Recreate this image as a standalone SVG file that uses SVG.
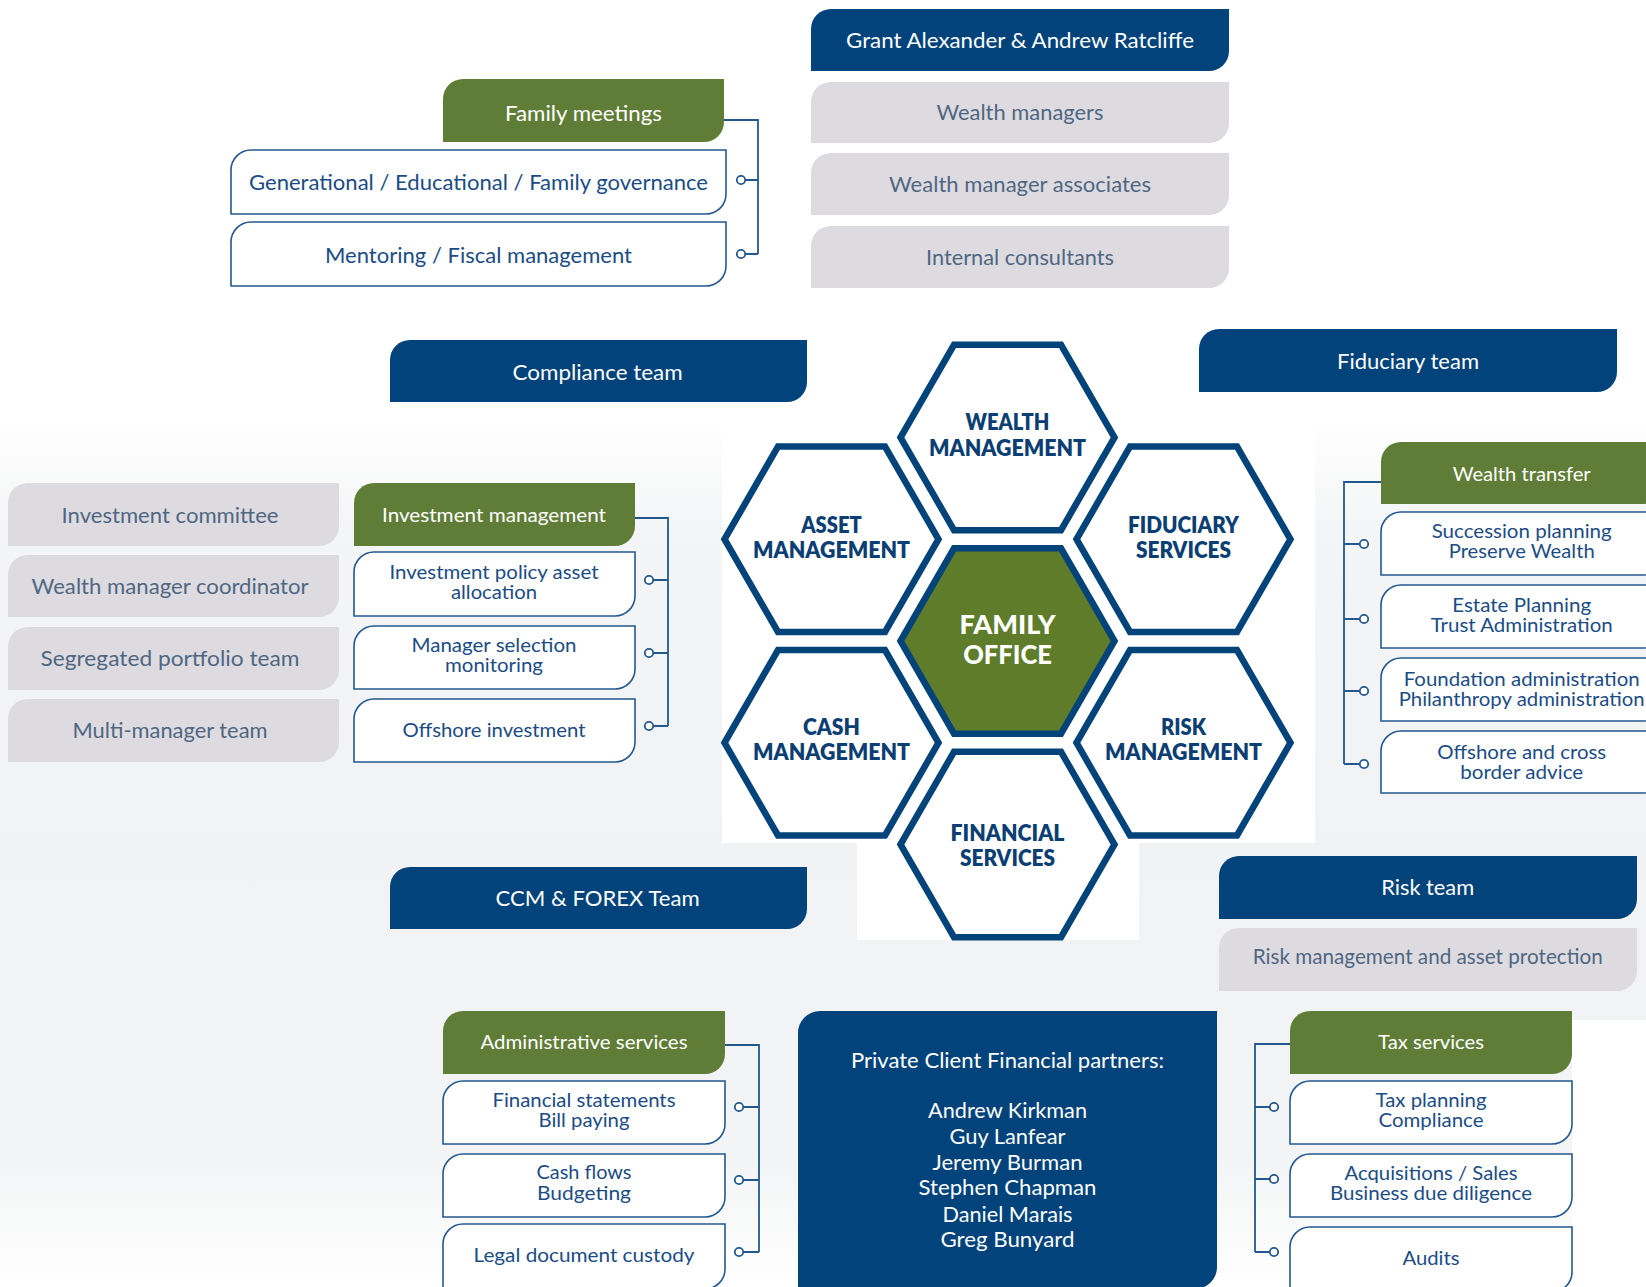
<svg xmlns="http://www.w3.org/2000/svg" width="1646" height="1287" viewBox="0 0 1646 1287">
<defs>
<linearGradient id="bgGrad" x1="0" y1="0" x2="0" y2="1">
<stop offset="0" stop-color="#ffffff"/>
<stop offset="0.12" stop-color="#f4f5f6"/>
<stop offset="0.5" stop-color="#f1f2f3"/>
<stop offset="0.85" stop-color="#f3f4f5"/>
<stop offset="1" stop-color="#ffffff"/>
</linearGradient>
<polygon id="hex" points="-107,0 -53.5,-92.66 53.5,-92.66 107,0 53.5,92.66 -53.5,92.66"/>
<style>
.blue{fill:#01437a}
.gray{fill:#dddbe0}
.green{fill:#607d38}
.out{fill:#ffffff;stroke:#23588f;stroke-width:1.6}
.conn path{fill:none;stroke:#23588f;stroke-width:1.8}
.conn circle{fill:#ffffff;stroke:#23588f;stroke-width:1.8}
.hexs{fill:#ffffff;stroke:#02437a;stroke-width:6.5}
text{font-family:Lato,"Liberation Sans",sans-serif;text-anchor:middle}
.tw{fill:#ffffff;font-size:22px}
.tb{fill:#1b4c85;font-size:22px}
.tg{fill:#4f6782;font-size:22px}
.ts{fill:#1b4c85;font-size:19px}
.tn{fill:#ffffff;font-size:21px}
.hx{fill:#0b3e72;font-size:22.5px;font-weight:800}
.fo{fill:#ffffff;font-size:26px;font-weight:900}
</style>
</defs>
<rect width="1646" height="1287" fill="#ffffff"/>
<rect x="0" y="420" width="1646" height="867" fill="url(#bgGrad)"/>
<rect x="1572" y="1020" width="74" height="267" fill="#ffffff"/>
<rect x="722" y="300" width="593" height="543" fill="#ffffff"/>
<rect x="857" y="843" width="282" height="97" fill="#ffffff"/>

<g id="connectors" class="conn">
<path d="M724,120 H758 V254 M758,180 H745 M758,254 H745"/>
<circle cx="741" cy="180" r="4.2"/><circle cx="741" cy="254" r="4.2"/>
<path d="M635,518 H668 V726 M668,580 H653 M668,653 H653 M668,726 H653"/>
<circle cx="649" cy="580" r="4.2"/><circle cx="649" cy="653" r="4.2"/><circle cx="649" cy="726" r="4.2"/>
<path d="M1381,482 H1344 V764 M1344,544 H1360 M1344,619 H1360 M1344,691 H1360 M1344,764 H1360"/>
<circle cx="1364" cy="544" r="4.2"/><circle cx="1364" cy="619" r="4.2"/><circle cx="1364" cy="691" r="4.2"/><circle cx="1364" cy="764" r="4.2"/>
<path d="M725,1045 H759 V1252 M759,1107 H743 M759,1180 H743 M759,1252 H743"/>
<circle cx="739" cy="1107" r="4.2"/><circle cx="739" cy="1180" r="4.2"/><circle cx="739" cy="1252" r="4.2"/>
<path d="M1290,1044 H1255 V1252 M1255,1107 H1270 M1255,1179 H1270 M1255,1252 H1270"/>
<circle cx="1274" cy="1107" r="4.2"/><circle cx="1274" cy="1179" r="4.2"/><circle cx="1274" cy="1252" r="4.2"/>
</g>

<g id="grant"><path class="blue" d="M811,71 V29 A20,20 0 0 1 831,9 H1229 V51 A20,20 0 0 1 1209,71 Z"/><text class="tw" x="1020" y="48" textLength="348" lengthAdjust="spacingAndGlyphs">Grant Alexander &amp; Andrew Ratcliffe</text></g>
<g id="wealth-managers"><path class="gray" d="M811,143 V102 A20,20 0 0 1 831,82 H1229 V123 A20,20 0 0 1 1209,143 Z"/><text class="tg" x="1020" y="120" textLength="167" lengthAdjust="spacingAndGlyphs">Wealth managers</text></g>
<g id="wm-associates"><path class="gray" d="M811,215 V173 A20,20 0 0 1 831,153 H1229 V195 A20,20 0 0 1 1209,215 Z"/><text class="tg" x="1020" y="192" textLength="262" lengthAdjust="spacingAndGlyphs">Wealth manager associates</text></g>
<g id="internal-consultants"><path class="gray" d="M811,288 V246 A20,20 0 0 1 831,226 H1229 V268 A20,20 0 0 1 1209,288 Z"/><text class="tg" x="1020" y="265" textLength="188" lengthAdjust="spacingAndGlyphs">Internal consultants</text></g>

<g id="family-meetings"><path class="green" d="M443,142 V99 A20,20 0 0 1 463,79 H724 V122 A20,20 0 0 1 704,142 Z"/><text class="tw" x="583.5" y="121" textLength="157" lengthAdjust="spacingAndGlyphs">Family meetings</text></g>
<g id="generational"><path class="out" d="M231,214 V170 A20,20 0 0 1 251,150 H726 V194 A20,20 0 0 1 706,214 Z"/><text class="tb" x="478.5" y="190" textLength="459" lengthAdjust="spacingAndGlyphs">Generational / Educational / Family governance</text></g>
<g id="mentoring"><path class="out" d="M231,286 V242 A20,20 0 0 1 251,222 H726 V266 A20,20 0 0 1 706,286 Z"/><text class="tb" x="478.5" y="263" textLength="307" lengthAdjust="spacingAndGlyphs">Mentoring / Fiscal management</text></g>

<g id="compliance-team"><path class="blue" d="M390,402 V360 A20,20 0 0 1 410,340 H807 V382 A20,20 0 0 1 787,402 Z"/><text class="tw" x="597.6" y="380" textLength="170" lengthAdjust="spacingAndGlyphs">Compliance team</text></g>
<g id="fiduciary-team"><path class="blue" d="M1199,392 V349 A20,20 0 0 1 1219,329 H1617 V372 A20,20 0 0 1 1597,392 Z"/><text class="tw" x="1408" y="369" textLength="142" lengthAdjust="spacingAndGlyphs">Fiduciary team</text></g>

<g id="investment-committee"><path class="gray" d="M8,546 V503 A20,20 0 0 1 28,483 H339 V526 A20,20 0 0 1 319,546 Z"/><text class="tg" x="170" y="522.5" textLength="217" lengthAdjust="spacingAndGlyphs">Investment committee</text></g>
<g id="wm-coordinator"><path class="gray" d="M8,617 V575 A20,20 0 0 1 28,555 H339 V597 A20,20 0 0 1 319,617 Z"/><text class="tg" x="170" y="594" textLength="277" lengthAdjust="spacingAndGlyphs">Wealth manager coordinator</text></g>
<g id="segregated"><path class="gray" d="M8,690 V647 A20,20 0 0 1 28,627 H339 V670 A20,20 0 0 1 319,690 Z"/><text class="tg" x="170" y="666" textLength="259" lengthAdjust="spacingAndGlyphs">Segregated portfolio team</text></g>
<g id="multi-manager"><path class="gray" d="M8,762 V719 A20,20 0 0 1 28,699 H339 V742 A20,20 0 0 1 319,762 Z"/><text class="tg" x="170" y="738" textLength="195" lengthAdjust="spacingAndGlyphs">Multi-manager team</text></g>

<g id="investment-management"><path class="green" d="M354,546 V503 A20,20 0 0 1 374,483 H635 V526 A20,20 0 0 1 615,546 Z"/><text class="tw" x="494" y="522" style="font-size:20px" textLength="224" lengthAdjust="spacingAndGlyphs">Investment management</text></g>
<g id="investment-policy"><path class="out" d="M354,616 V572 A20,20 0 0 1 374,552 H635 V596 A20,20 0 0 1 615,616 Z"/><text class="ts" x="494" y="579" textLength="209" lengthAdjust="spacingAndGlyphs">Investment policy asset</text><text class="ts" x="494" y="599" textLength="86" lengthAdjust="spacingAndGlyphs">allocation</text></g>
<g id="manager-selection"><path class="out" d="M354,689 V646 A20,20 0 0 1 374,626 H635 V669 A20,20 0 0 1 615,689 Z"/><text class="ts" x="494" y="652" textLength="165" lengthAdjust="spacingAndGlyphs">Manager selection</text><text class="ts" x="494" y="672" textLength="98" lengthAdjust="spacingAndGlyphs">monitoring</text></g>
<g id="offshore-investment"><path class="out" d="M354,762 V719 A20,20 0 0 1 374,699 H635 V742 A20,20 0 0 1 615,762 Z"/><text class="ts" x="494" y="737" textLength="183" lengthAdjust="spacingAndGlyphs">Offshore investment</text></g>

<g id="wealth-transfer"><path class="green" d="M1381,504 V462 A20,20 0 0 1 1401,442 H1663 V484 A20,20 0 0 1 1643,504 Z"/><text class="tw" x="1521.7" y="481" style="font-size:20px" textLength="138" lengthAdjust="spacingAndGlyphs">Wealth transfer</text></g>
<g id="succession"><path class="out" d="M1381,575 V532 A20,20 0 0 1 1401,512 H1663 V555 A20,20 0 0 1 1643,575 Z"/><text class="ts" x="1521.7" y="538" textLength="180" lengthAdjust="spacingAndGlyphs">Succession planning</text><text class="ts" x="1521.7" y="558" textLength="146" lengthAdjust="spacingAndGlyphs">Preserve Wealth</text></g>
<g id="estate"><path class="out" d="M1381,648 V605 A20,20 0 0 1 1401,585 H1663 V628 A20,20 0 0 1 1643,648 Z"/><text class="ts" x="1521.7" y="612" textLength="139" lengthAdjust="spacingAndGlyphs">Estate Planning</text><text class="ts" x="1521.7" y="632" textLength="182" lengthAdjust="spacingAndGlyphs">Trust Administration</text></g>
<g id="foundation"><path class="out" d="M1381,721 V678 A20,20 0 0 1 1401,658 H1663 V701 A20,20 0 0 1 1643,721 Z"/><text class="ts" x="1521.7" y="686" textLength="236" lengthAdjust="spacingAndGlyphs">Foundation administration</text><text class="ts" x="1521.7" y="706" textLength="246" lengthAdjust="spacingAndGlyphs">Philanthropy administration</text></g>
<g id="offshore-cross"><path class="out" d="M1381,793 V751 A20,20 0 0 1 1401,731 H1663 V773 A20,20 0 0 1 1643,793 Z"/><text class="ts" x="1521.7" y="759" textLength="169" lengthAdjust="spacingAndGlyphs">Offshore and cross</text><text class="ts" x="1521.7" y="779" textLength="123" lengthAdjust="spacingAndGlyphs">border advice</text></g>

<g id="hexagons">
<g id="hex-wealth"><use href="#hex" x="1007.5" y="437.5" class="hexs"/><text class="hx" x="1007.5" y="430" textLength="84" lengthAdjust="spacingAndGlyphs">WEALTH</text><text class="hx" x="1007.5" y="456" textLength="157" lengthAdjust="spacingAndGlyphs">MANAGEMENT</text></g>
<g id="hex-asset"><use href="#hex" x="831.5" y="539.25" class="hexs"/><text class="hx" x="831.5" y="532.5" textLength="60.5" lengthAdjust="spacingAndGlyphs">ASSET</text><text class="hx" x="831.5" y="557.5" textLength="157" lengthAdjust="spacingAndGlyphs">MANAGEMENT</text></g>
<g id="hex-fiduciary"><use href="#hex" x="1183.5" y="539.25" class="hexs"/><text class="hx" x="1183.5" y="532.5" textLength="111" lengthAdjust="spacingAndGlyphs">FIDUCIARY</text><text class="hx" x="1183.5" y="557.5" textLength="95" lengthAdjust="spacingAndGlyphs">SERVICES</text></g>
<g id="hex-family"><use href="#hex" x="1007.5" y="641" class="hexs" style="fill:#5e7c2a"/><text class="fo" x="1007.5" y="634" textLength="96" lengthAdjust="spacingAndGlyphs">FAMILY</text><text class="fo" x="1007.5" y="664" textLength="88.6" lengthAdjust="spacingAndGlyphs">OFFICE</text></g>
<g id="hex-cash"><use href="#hex" x="831.5" y="742.75" class="hexs"/><text class="hx" x="831.5" y="735.3" textLength="57" lengthAdjust="spacingAndGlyphs">CASH</text><text class="hx" x="831.5" y="760.2" textLength="157" lengthAdjust="spacingAndGlyphs">MANAGEMENT</text></g>
<g id="hex-risk"><use href="#hex" x="1183.5" y="742.75" class="hexs"/><text class="hx" x="1183.5" y="735.3" textLength="45" lengthAdjust="spacingAndGlyphs">RISK</text><text class="hx" x="1183.5" y="760.2" textLength="157" lengthAdjust="spacingAndGlyphs">MANAGEMENT</text></g>
<g id="hex-financial"><use href="#hex" x="1007.5" y="844.5" class="hexs"/><text class="hx" x="1007.5" y="841" textLength="114" lengthAdjust="spacingAndGlyphs">FINANCIAL</text><text class="hx" x="1007.5" y="866" textLength="95" lengthAdjust="spacingAndGlyphs">SERVICES</text></g>
</g>

<g id="ccm-forex"><path class="blue" d="M390,929 V887 A20,20 0 0 1 410,867 H807 V909 A20,20 0 0 1 787,929 Z"/><text class="tw" x="597.6" y="906" textLength="204" lengthAdjust="spacingAndGlyphs">CCM &amp; FOREX Team</text></g>
<g id="risk-team"><path class="blue" d="M1219,919 V876 A20,20 0 0 1 1239,856 H1637 V899 A20,20 0 0 1 1617,919 Z"/><text class="tw" x="1427.7" y="895" textLength="93" lengthAdjust="spacingAndGlyphs">Risk team</text></g>
<g id="risk-protection"><path class="gray" d="M1219,991 V948 A20,20 0 0 1 1239,928 H1637 V971 A20,20 0 0 1 1617,991 Z"/><text class="tg" x="1427.7" y="964" style="font-size:20.5px" textLength="350" lengthAdjust="spacingAndGlyphs">Risk management and asset protection</text></g>

<g id="administrative-services"><path class="green" d="M443,1074 V1031 A20,20 0 0 1 463,1011 H725 V1054 A20,20 0 0 1 705,1074 Z"/><text class="tw" x="584" y="1049" style="font-size:20px" textLength="207" lengthAdjust="spacingAndGlyphs">Administrative services</text></g>
<g id="financial-statements"><path class="out" d="M443,1144 V1101 A20,20 0 0 1 463,1081 H725 V1124 A20,20 0 0 1 705,1144 Z"/><text class="ts" x="584" y="1107" textLength="183" lengthAdjust="spacingAndGlyphs">Financial statements</text><text class="ts" x="584" y="1127" textLength="91" lengthAdjust="spacingAndGlyphs">Bill paying</text></g>
<g id="cash-flows"><path class="out" d="M443,1217 V1174 A20,20 0 0 1 463,1154 H725 V1197 A20,20 0 0 1 705,1217 Z"/><text class="ts" x="584" y="1179" textLength="95" lengthAdjust="spacingAndGlyphs">Cash flows</text><text class="ts" x="584" y="1200" textLength="94" lengthAdjust="spacingAndGlyphs">Budgeting</text></g>
<g id="legal-custody"><path class="out" d="M443,1289 V1244 A20,20 0 0 1 463,1224 H725 V1269 A20,20 0 0 1 705,1289 Z"/><text class="ts" x="584" y="1262" textLength="221" lengthAdjust="spacingAndGlyphs">Legal document custody</text></g>

<g id="private-client"><path class="blue" d="M798,1289 V1033 A22,22 0 0 1 820,1011 H1217 V1267 A22,22 0 0 1 1195,1289 Z"/>
<text class="tn" x="1007.5" y="1068" textLength="313" lengthAdjust="spacingAndGlyphs">Private Client Financial partners:</text>
<text class="tn" x="1007.5" y="1118" textLength="159" lengthAdjust="spacingAndGlyphs">Andrew Kirkman</text>
<text class="tn" x="1007.5" y="1144" textLength="116" lengthAdjust="spacingAndGlyphs">Guy Lanfear</text>
<text class="tn" x="1007.5" y="1170" textLength="150" lengthAdjust="spacingAndGlyphs">Jeremy Burman</text>
<text class="tn" x="1007.5" y="1195" textLength="178" lengthAdjust="spacingAndGlyphs">Stephen Chapman</text>
<text class="tn" x="1007.5" y="1222" textLength="130" lengthAdjust="spacingAndGlyphs">Daniel Marais</text>
<text class="tn" x="1007.5" y="1247" textLength="134" lengthAdjust="spacingAndGlyphs">Greg Bunyard</text>
</g>

<g id="tax-services"><path class="green" d="M1290,1074 V1031 A20,20 0 0 1 1310,1011 H1572 V1054 A20,20 0 0 1 1552,1074 Z"/><text class="tw" x="1431" y="1049" style="font-size:20px" textLength="106" lengthAdjust="spacingAndGlyphs">Tax services</text></g>
<g id="tax-planning"><path class="out" d="M1290,1144 V1101 A20,20 0 0 1 1310,1081 H1572 V1124 A20,20 0 0 1 1552,1144 Z"/><text class="ts" x="1431" y="1107" textLength="111" lengthAdjust="spacingAndGlyphs">Tax planning</text><text class="ts" x="1431" y="1127" textLength="105" lengthAdjust="spacingAndGlyphs">Compliance</text></g>
<g id="acquisitions"><path class="out" d="M1290,1217 V1174 A20,20 0 0 1 1310,1154 H1572 V1197 A20,20 0 0 1 1552,1217 Z"/><text class="ts" x="1431" y="1180" textLength="173" lengthAdjust="spacingAndGlyphs">Acquisitions / Sales</text><text class="ts" x="1431" y="1200" textLength="202" lengthAdjust="spacingAndGlyphs">Business due diligence</text></g>
<g id="audits"><path class="out" d="M1290,1292 V1247 A20,20 0 0 1 1310,1227 H1572 V1272 A20,20 0 0 1 1552,1292 Z"/><text class="ts" x="1431" y="1265" textLength="57" lengthAdjust="spacingAndGlyphs">Audits</text></g>
</svg>
